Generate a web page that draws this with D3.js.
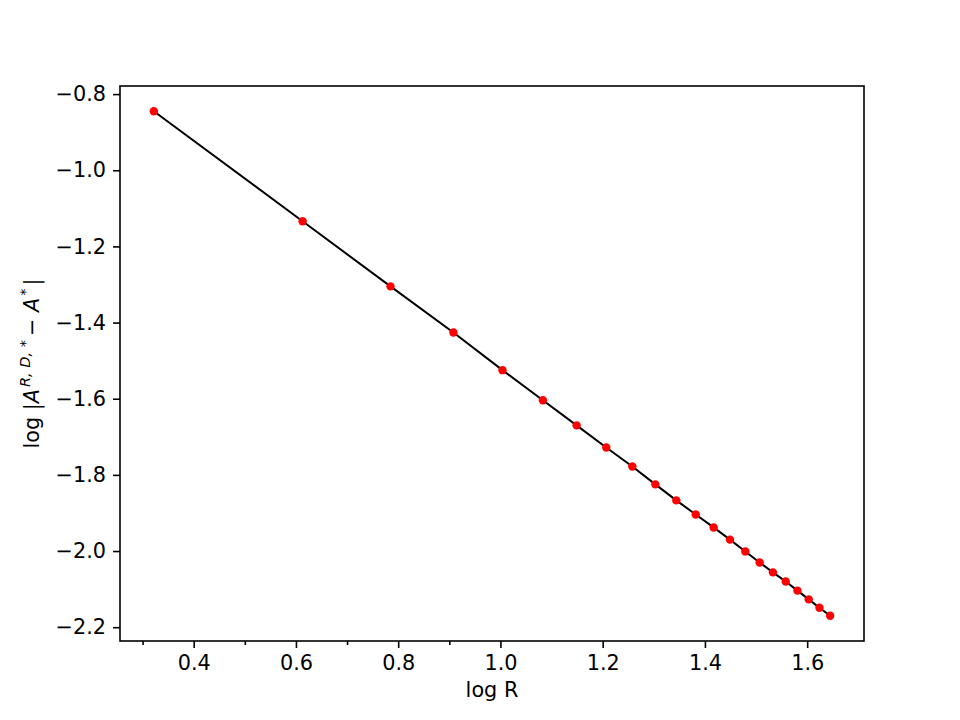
<!DOCTYPE html>
<html>
<head>
<meta charset="utf-8">
<script src="https://cdn.jsdelivr.net/npm/d3@7"></script>
<style>
  body { margin: 0; background: #fff; }
  svg { display: block; font-family: "DejaVu Sans", sans-serif; }
</style>
</head>
<body>
<svg id="chart" width="960" height="720"></svg>
<script>
// log R values
const logR = [0.322, 0.613, 0.785, 0.908, 1.004, 1.083, 1.149, 1.207, 1.258, 1.303,
              1.344, 1.382, 1.417, 1.449, 1.479, 1.507, 1.533, 1.558, 1.581, 1.603,
              1.624, 1.645];
// log |A^{R,D,*} - A^*|
const logErr = [-0.845, -1.134, -1.305, -1.426, -1.525, -1.604, -1.670, -1.728, -1.778, -1.825,
                -1.867, -1.904, -1.938, -1.970, -2.001, -2.030, -2.056, -2.080, -2.104, -2.127,
                -2.149, -2.170];
const xTicks = [0.4, 0.6, 0.8, 1.0, 1.2, 1.4, 1.6];
const xMinorTicks = [0.3, 0.5, 0.7, 0.9];
const yTicks = [-0.8, -1.0, -1.2, -1.4, -1.6, -1.8, -2.0, -2.2];

const points = logR.map((x, i) => ({ x: x, y: logErr[i] }));

// figure layout (matplotlib-like defaults)
const margin = { top: 86, right: 96, bottom: 79, left: 120 };
const width = 960, height = 720;
const plotW = width - margin.left - margin.right;
const plotH = height - margin.top - margin.bottom;

const svg = d3.select('#chart');
const g = svg.append('g').attr('transform', `translate(${margin.left},${margin.top})`);

// 5% padding like matplotlib autoscale
const xExt = d3.extent(logR), yExt = d3.extent(logErr);
const xPad = (xExt[1] - xExt[0]) * 0.05, yPad = (yExt[1] - yExt[0]) * 0.05;

const x = d3.scaleLinear().domain([xExt[0] - xPad, xExt[1] + xPad]).range([0, plotW]);
const y = d3.scaleLinear().domain([yExt[0] - yPad, yExt[1] + yPad]).range([plotH, 0]);

const fmt = d => d3.format('.1f')(d).replace('-', '\u2212');

// x axis
g.append('g')
    .attr('transform', `translate(0,${plotH})`)
    .call(d3.axisBottom(x).tickValues(xTicks).tickFormat(fmt).tickSize(7).tickPadding(7));
g.append('g')
    .attr('transform', `translate(0,${plotH})`)
    .call(d3.axisBottom(x).tickValues(xMinorTicks).tickFormat('').tickSize(4));

// y axis
g.append('g')
    .call(d3.axisLeft(y).tickValues(yTicks).tickFormat(fmt).tickSize(7).tickPadding(7));

g.selectAll('.tick line').attr('stroke', '#000').attr('stroke-width', 1.6);
g.selectAll('.domain').remove();
g.selectAll('.tick text').attr('font-size', 20.8).attr('fill', '#000')
    .attr('font-family', '"DejaVu Sans", sans-serif');

// frame
g.append('rect')
    .attr('width', plotW).attr('height', plotH)
    .attr('fill', 'none').attr('stroke', '#000').attr('stroke-width', 1.6);

// line + markers
const line = d3.line().x(d => x(d.x)).y(d => y(d.y));
g.append('path')
    .datum(points)
    .attr('d', line)
    .attr('fill', 'none')
    .attr('stroke', '#000')
    .attr('stroke-width', 2);

g.selectAll('.pt')
    .data(points)
    .enter()
    .append('circle')
    .attr('class', 'pt')
    .attr('cx', d => x(d.x))
    .attr('cy', d => y(d.y))
    .attr('r', 4.2)
    .attr('fill', '#ff0000');

// x label
svg.append('text')
    .attr('x', margin.left + plotW / 2)
    .attr('y', 697)
    .attr('text-anchor', 'middle')
    .attr('font-size', 20.8)
    .text('log R');

// y label with math-like formatting
const yl = svg.append('text')
    .attr('transform', `translate(39,${margin.top + plotH / 2}) rotate(-90)`)
    .attr('text-anchor', 'middle')
    .attr('font-size', 20.8);
yl.append('tspan').text('log |');
yl.append('tspan').attr('font-style', 'italic').text('A');
yl.append('tspan').attr('font-style', 'italic').attr('font-size', 14.5).attr('dy', -9)
    .attr('dx', 2).text('R, D, ');
yl.append('tspan').attr('font-size', 14.5).text('*');
yl.append('tspan').attr('dy', 9).attr('dx', 4).text('\u2212 ');
yl.append('tspan').attr('font-style', 'italic').text('A');
yl.append('tspan').attr('font-size', 14.5).attr('dy', -9).attr('dx', 2).text('*');
yl.append('tspan').attr('dy', 9).attr('dx', 3).text('|');
</script>
</body>
</html>
